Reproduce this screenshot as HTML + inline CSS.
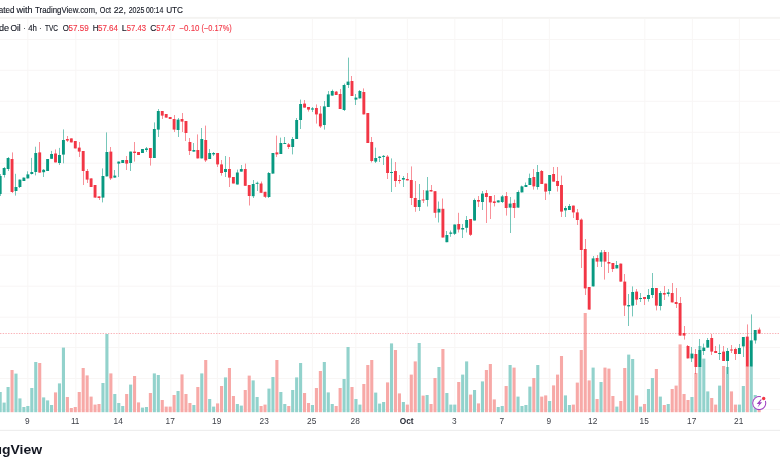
<!DOCTYPE html>
<html><head><meta charset="utf-8"><style>
html,body{margin:0;padding:0;background:#fff;}
body{width:780px;height:470px;overflow:hidden;}
svg{display:block;font-family:"Liberation Sans", sans-serif;will-change:transform;}
</style></head><body>
<svg width="780" height="470" viewBox="0 0 780 470">
<rect width="780" height="470" fill="#ffffff"/>
<rect x="27.35" y="18.8" width="1" height="393.90" fill="#f8f6f5"/>
<rect x="75.35" y="18.8" width="1" height="393.90" fill="#f8f6f5"/>
<rect x="118.35" y="18.8" width="1" height="393.90" fill="#f8f6f5"/>
<rect x="170.35" y="18.8" width="1" height="393.90" fill="#f8f6f5"/>
<rect x="216.85" y="18.8" width="1" height="393.90" fill="#f8f6f5"/>
<rect x="311.85" y="18.8" width="1" height="393.90" fill="#f8f6f5"/>
<rect x="355.35" y="18.8" width="1" height="393.90" fill="#f8f6f5"/>
<rect x="406.85" y="18.8" width="1" height="393.90" fill="#f8f6f5"/>
<rect x="454.35" y="18.8" width="1" height="393.90" fill="#f8f6f5"/>
<rect x="501.85" y="18.8" width="1" height="393.90" fill="#f8f6f5"/>
<rect x="548.85" y="18.8" width="1" height="393.90" fill="#f8f6f5"/>
<rect x="644.35" y="18.8" width="1" height="393.90" fill="#f8f6f5"/>
<rect x="691.85" y="18.8" width="1" height="393.90" fill="#f8f6f5"/>
<rect x="738.85" y="18.8" width="1" height="393.90" fill="#f8f6f5"/>
<rect x="0" y="39.00" width="780" height="1" fill="#f8f6f5"/>
<rect x="0" y="69.80" width="780" height="1" fill="#f8f6f5"/>
<rect x="0" y="100.80" width="780" height="1" fill="#f8f6f5"/>
<rect x="0" y="131.80" width="780" height="1" fill="#f8f6f5"/>
<rect x="0" y="162.70" width="780" height="1" fill="#f8f6f5"/>
<rect x="0" y="193.10" width="780" height="1" fill="#f8f6f5"/>
<rect x="0" y="223.80" width="780" height="1" fill="#f8f6f5"/>
<rect x="0" y="254.70" width="780" height="1" fill="#f8f6f5"/>
<rect x="0" y="285.70" width="780" height="1" fill="#f8f6f5"/>
<rect x="0" y="316.70" width="780" height="1" fill="#f8f6f5"/>
<rect x="0" y="347.00" width="780" height="1" fill="#f8f6f5"/>
<rect x="0" y="378.00" width="780" height="1" fill="#f8f6f5"/>
<rect x="0" y="409.00" width="780" height="1" fill="#f8f6f5"/>
<rect x="0" y="16.9" width="780" height="1.9" fill="#f4f3f1"/>
<rect x="0" y="429.8" width="780" height="1.2" fill="#eeeeee"/>
<rect x="-1.37" y="392.00" width="3.1" height="20.20" fill="#92d2cc"/>
<rect x="2.58" y="402.60" width="3.1" height="9.60" fill="#92d2cc"/>
<rect x="6.53" y="387.00" width="3.1" height="25.20" fill="#92d2cc"/>
<rect x="10.49" y="370.00" width="3.1" height="42.20" fill="#f7a9a7"/>
<rect x="14.44" y="373.60" width="3.1" height="38.60" fill="#92d2cc"/>
<rect x="18.39" y="398.40" width="3.1" height="13.80" fill="#92d2cc"/>
<rect x="22.34" y="407.00" width="3.1" height="5.20" fill="#92d2cc"/>
<rect x="26.30" y="406.00" width="3.1" height="6.20" fill="#92d2cc"/>
<rect x="30.25" y="388.00" width="3.1" height="24.20" fill="#92d2cc"/>
<rect x="34.20" y="362.00" width="3.1" height="50.20" fill="#92d2cc"/>
<rect x="38.16" y="363.00" width="3.1" height="49.20" fill="#f7a9a7"/>
<rect x="42.11" y="397.40" width="3.1" height="14.80" fill="#92d2cc"/>
<rect x="46.06" y="400.40" width="3.1" height="11.80" fill="#92d2cc"/>
<rect x="50.02" y="405.00" width="3.1" height="7.20" fill="#92d2cc"/>
<rect x="53.97" y="392.40" width="3.1" height="19.80" fill="#f7a9a7"/>
<rect x="57.92" y="383.40" width="3.1" height="28.80" fill="#92d2cc"/>
<rect x="61.88" y="347.60" width="3.1" height="64.60" fill="#92d2cc"/>
<rect x="65.83" y="397.00" width="3.1" height="15.20" fill="#f7a9a7"/>
<rect x="69.78" y="408.00" width="3.1" height="4.20" fill="#f7a9a7"/>
<rect x="73.73" y="407.00" width="3.1" height="5.20" fill="#f7a9a7"/>
<rect x="77.69" y="392.00" width="3.1" height="20.20" fill="#f7a9a7"/>
<rect x="81.64" y="368.00" width="3.1" height="44.20" fill="#f7a9a7"/>
<rect x="85.59" y="375.40" width="3.1" height="36.80" fill="#f7a9a7"/>
<rect x="89.55" y="396.60" width="3.1" height="15.60" fill="#f7a9a7"/>
<rect x="93.50" y="404.60" width="3.1" height="7.60" fill="#f7a9a7"/>
<rect x="97.45" y="404.00" width="3.1" height="8.20" fill="#f7a9a7"/>
<rect x="101.41" y="383.00" width="3.1" height="29.20" fill="#92d2cc"/>
<rect x="105.36" y="334.00" width="3.1" height="78.20" fill="#92d2cc"/>
<rect x="109.31" y="373.40" width="3.1" height="38.80" fill="#f7a9a7"/>
<rect x="113.26" y="394.00" width="3.1" height="18.20" fill="#92d2cc"/>
<rect x="117.22" y="403.00" width="3.1" height="9.20" fill="#92d2cc"/>
<rect x="121.17" y="406.00" width="3.1" height="6.20" fill="#92d2cc"/>
<rect x="125.12" y="394.00" width="3.1" height="18.20" fill="#f7a9a7"/>
<rect x="129.08" y="384.60" width="3.1" height="27.60" fill="#92d2cc"/>
<rect x="133.03" y="376.00" width="3.1" height="36.20" fill="#f7a9a7"/>
<rect x="136.98" y="402.40" width="3.1" height="9.80" fill="#f7a9a7"/>
<rect x="140.93" y="407.60" width="3.1" height="4.60" fill="#92d2cc"/>
<rect x="144.89" y="407.00" width="3.1" height="5.20" fill="#92d2cc"/>
<rect x="148.84" y="393.00" width="3.1" height="19.20" fill="#f7a9a7"/>
<rect x="152.79" y="373.40" width="3.1" height="38.80" fill="#92d2cc"/>
<rect x="156.75" y="375.00" width="3.1" height="37.20" fill="#92d2cc"/>
<rect x="160.70" y="400.00" width="3.1" height="12.20" fill="#f7a9a7"/>
<rect x="164.65" y="406.60" width="3.1" height="5.60" fill="#f7a9a7"/>
<rect x="168.61" y="406.60" width="3.1" height="5.60" fill="#f7a9a7"/>
<rect x="172.56" y="395.00" width="3.1" height="17.20" fill="#f7a9a7"/>
<rect x="176.51" y="391.00" width="3.1" height="21.20" fill="#92d2cc"/>
<rect x="180.46" y="374.40" width="3.1" height="37.80" fill="#f7a9a7"/>
<rect x="184.42" y="394.00" width="3.1" height="18.20" fill="#f7a9a7"/>
<rect x="188.37" y="403.00" width="3.1" height="9.20" fill="#f7a9a7"/>
<rect x="192.32" y="405.00" width="3.1" height="7.20" fill="#92d2cc"/>
<rect x="196.28" y="387.00" width="3.1" height="25.20" fill="#f7a9a7"/>
<rect x="200.23" y="373.40" width="3.1" height="38.80" fill="#92d2cc"/>
<rect x="204.18" y="360.00" width="3.1" height="52.20" fill="#f7a9a7"/>
<rect x="208.14" y="399.00" width="3.1" height="13.20" fill="#92d2cc"/>
<rect x="212.09" y="406.60" width="3.1" height="5.60" fill="#92d2cc"/>
<rect x="216.04" y="403.40" width="3.1" height="8.80" fill="#f7a9a7"/>
<rect x="219.99" y="386.00" width="3.1" height="26.20" fill="#f7a9a7"/>
<rect x="223.95" y="377.40" width="3.1" height="34.80" fill="#92d2cc"/>
<rect x="227.90" y="368.00" width="3.1" height="44.20" fill="#f7a9a7"/>
<rect x="231.85" y="396.00" width="3.1" height="16.20" fill="#f7a9a7"/>
<rect x="235.81" y="404.00" width="3.1" height="8.20" fill="#92d2cc"/>
<rect x="239.76" y="405.60" width="3.1" height="6.60" fill="#92d2cc"/>
<rect x="243.71" y="390.00" width="3.1" height="22.20" fill="#f7a9a7"/>
<rect x="247.67" y="375.60" width="3.1" height="36.60" fill="#f7a9a7"/>
<rect x="251.62" y="380.40" width="3.1" height="31.80" fill="#92d2cc"/>
<rect x="255.57" y="397.00" width="3.1" height="15.20" fill="#92d2cc"/>
<rect x="259.52" y="406.00" width="3.1" height="6.20" fill="#f7a9a7"/>
<rect x="263.48" y="404.60" width="3.1" height="7.60" fill="#f7a9a7"/>
<rect x="267.43" y="388.60" width="3.1" height="23.60" fill="#92d2cc"/>
<rect x="271.38" y="377.00" width="3.1" height="35.20" fill="#92d2cc"/>
<rect x="275.34" y="360.00" width="3.1" height="52.20" fill="#f7a9a7"/>
<rect x="279.29" y="392.00" width="3.1" height="20.20" fill="#92d2cc"/>
<rect x="283.24" y="404.00" width="3.1" height="8.20" fill="#92d2cc"/>
<rect x="287.20" y="406.00" width="3.1" height="6.20" fill="#f7a9a7"/>
<rect x="291.15" y="390.00" width="3.1" height="22.20" fill="#92d2cc"/>
<rect x="295.10" y="377.40" width="3.1" height="34.80" fill="#92d2cc"/>
<rect x="299.05" y="363.00" width="3.1" height="49.20" fill="#92d2cc"/>
<rect x="303.01" y="393.00" width="3.1" height="19.20" fill="#f7a9a7"/>
<rect x="306.96" y="403.00" width="3.1" height="9.20" fill="#f7a9a7"/>
<rect x="310.91" y="405.00" width="3.1" height="7.20" fill="#92d2cc"/>
<rect x="314.87" y="388.00" width="3.1" height="24.20" fill="#f7a9a7"/>
<rect x="318.82" y="371.00" width="3.1" height="41.20" fill="#f7a9a7"/>
<rect x="322.77" y="362.00" width="3.1" height="50.20" fill="#92d2cc"/>
<rect x="326.73" y="392.40" width="3.1" height="19.80" fill="#92d2cc"/>
<rect x="330.68" y="404.00" width="3.1" height="8.20" fill="#92d2cc"/>
<rect x="334.63" y="406.00" width="3.1" height="6.20" fill="#f7a9a7"/>
<rect x="338.58" y="388.00" width="3.1" height="24.20" fill="#f7a9a7"/>
<rect x="342.54" y="379.00" width="3.1" height="33.20" fill="#92d2cc"/>
<rect x="346.49" y="347.00" width="3.1" height="65.20" fill="#92d2cc"/>
<rect x="350.44" y="387.00" width="3.1" height="25.20" fill="#f7a9a7"/>
<rect x="354.40" y="399.00" width="3.1" height="13.20" fill="#92d2cc"/>
<rect x="358.35" y="404.60" width="3.1" height="7.60" fill="#92d2cc"/>
<rect x="362.30" y="384.00" width="3.1" height="28.20" fill="#f7a9a7"/>
<rect x="366.26" y="365.00" width="3.1" height="47.20" fill="#f7a9a7"/>
<rect x="370.21" y="360.00" width="3.1" height="52.20" fill="#f7a9a7"/>
<rect x="374.16" y="392.60" width="3.1" height="19.60" fill="#92d2cc"/>
<rect x="378.11" y="403.60" width="3.1" height="8.60" fill="#92d2cc"/>
<rect x="382.07" y="402.00" width="3.1" height="10.20" fill="#92d2cc"/>
<rect x="386.02" y="382.40" width="3.1" height="29.80" fill="#f7a9a7"/>
<rect x="389.97" y="343.40" width="3.1" height="68.80" fill="#92d2cc"/>
<rect x="393.93" y="350.00" width="3.1" height="62.20" fill="#f7a9a7"/>
<rect x="397.88" y="393.40" width="3.1" height="18.80" fill="#f7a9a7"/>
<rect x="401.83" y="402.00" width="3.1" height="10.20" fill="#92d2cc"/>
<rect x="405.79" y="404.60" width="3.1" height="7.60" fill="#f7a9a7"/>
<rect x="409.74" y="374.60" width="3.1" height="37.60" fill="#f7a9a7"/>
<rect x="413.69" y="361.40" width="3.1" height="50.80" fill="#f7a9a7"/>
<rect x="417.64" y="343.00" width="3.1" height="69.20" fill="#92d2cc"/>
<rect x="421.60" y="395.60" width="3.1" height="16.60" fill="#f7a9a7"/>
<rect x="425.55" y="395.00" width="3.1" height="17.20" fill="#92d2cc"/>
<rect x="429.50" y="404.00" width="3.1" height="8.20" fill="#f7a9a7"/>
<rect x="433.46" y="378.00" width="3.1" height="34.20" fill="#f7a9a7"/>
<rect x="437.41" y="367.00" width="3.1" height="45.20" fill="#92d2cc"/>
<rect x="441.36" y="349.00" width="3.1" height="63.20" fill="#f7a9a7"/>
<rect x="445.32" y="393.00" width="3.1" height="19.20" fill="#92d2cc"/>
<rect x="449.27" y="404.60" width="3.1" height="7.60" fill="#92d2cc"/>
<rect x="453.22" y="404.60" width="3.1" height="7.60" fill="#92d2cc"/>
<rect x="457.17" y="382.00" width="3.1" height="30.20" fill="#f7a9a7"/>
<rect x="461.13" y="374.60" width="3.1" height="37.60" fill="#92d2cc"/>
<rect x="465.08" y="361.40" width="3.1" height="50.80" fill="#92d2cc"/>
<rect x="469.03" y="394.60" width="3.1" height="17.60" fill="#f7a9a7"/>
<rect x="472.99" y="390.00" width="3.1" height="22.20" fill="#92d2cc"/>
<rect x="476.94" y="403.40" width="3.1" height="8.80" fill="#f7a9a7"/>
<rect x="480.89" y="381.40" width="3.1" height="30.80" fill="#92d2cc"/>
<rect x="484.85" y="370.00" width="3.1" height="42.20" fill="#f7a9a7"/>
<rect x="488.80" y="364.00" width="3.1" height="48.20" fill="#f7a9a7"/>
<rect x="492.75" y="399.40" width="3.1" height="12.80" fill="#f7a9a7"/>
<rect x="496.70" y="407.00" width="3.1" height="5.20" fill="#92d2cc"/>
<rect x="500.66" y="406.00" width="3.1" height="6.20" fill="#92d2cc"/>
<rect x="504.61" y="386.00" width="3.1" height="26.20" fill="#f7a9a7"/>
<rect x="508.56" y="365.00" width="3.1" height="47.20" fill="#92d2cc"/>
<rect x="512.52" y="367.60" width="3.1" height="44.60" fill="#f7a9a7"/>
<rect x="516.47" y="396.60" width="3.1" height="15.60" fill="#92d2cc"/>
<rect x="520.42" y="406.00" width="3.1" height="6.20" fill="#92d2cc"/>
<rect x="524.38" y="405.00" width="3.1" height="7.20" fill="#92d2cc"/>
<rect x="528.33" y="386.60" width="3.1" height="25.60" fill="#92d2cc"/>
<rect x="532.28" y="378.00" width="3.1" height="34.20" fill="#f7a9a7"/>
<rect x="536.24" y="365.00" width="3.1" height="47.20" fill="#92d2cc"/>
<rect x="540.19" y="396.60" width="3.1" height="15.60" fill="#f7a9a7"/>
<rect x="544.14" y="395.40" width="3.1" height="16.80" fill="#f7a9a7"/>
<rect x="548.09" y="401.00" width="3.1" height="11.20" fill="#92d2cc"/>
<rect x="552.05" y="385.40" width="3.1" height="26.80" fill="#f7a9a7"/>
<rect x="556.00" y="374.60" width="3.1" height="37.60" fill="#f7a9a7"/>
<rect x="559.95" y="356.00" width="3.1" height="56.20" fill="#f7a9a7"/>
<rect x="563.91" y="395.40" width="3.1" height="16.80" fill="#92d2cc"/>
<rect x="567.86" y="405.00" width="3.1" height="7.20" fill="#92d2cc"/>
<rect x="571.81" y="404.60" width="3.1" height="7.60" fill="#f7a9a7"/>
<rect x="575.76" y="382.60" width="3.1" height="29.60" fill="#f7a9a7"/>
<rect x="579.72" y="350.00" width="3.1" height="62.20" fill="#f7a9a7"/>
<rect x="583.67" y="313.00" width="3.1" height="99.20" fill="#f7a9a7"/>
<rect x="587.62" y="380.40" width="3.1" height="31.80" fill="#f7a9a7"/>
<rect x="591.58" y="367.60" width="3.1" height="44.60" fill="#92d2cc"/>
<rect x="595.53" y="399.00" width="3.1" height="13.20" fill="#f7a9a7"/>
<rect x="599.48" y="382.00" width="3.1" height="30.20" fill="#92d2cc"/>
<rect x="603.44" y="367.60" width="3.1" height="44.60" fill="#f7a9a7"/>
<rect x="607.39" y="368.60" width="3.1" height="43.60" fill="#f7a9a7"/>
<rect x="611.34" y="396.00" width="3.1" height="16.20" fill="#f7a9a7"/>
<rect x="615.30" y="406.60" width="3.1" height="5.60" fill="#92d2cc"/>
<rect x="619.25" y="401.00" width="3.1" height="11.20" fill="#f7a9a7"/>
<rect x="623.20" y="368.00" width="3.1" height="44.20" fill="#f7a9a7"/>
<rect x="627.15" y="354.60" width="3.1" height="57.60" fill="#92d2cc"/>
<rect x="631.11" y="359.00" width="3.1" height="53.20" fill="#92d2cc"/>
<rect x="635.06" y="395.40" width="3.1" height="16.80" fill="#f7a9a7"/>
<rect x="639.01" y="406.60" width="3.1" height="5.60" fill="#92d2cc"/>
<rect x="642.97" y="404.00" width="3.1" height="8.20" fill="#f7a9a7"/>
<rect x="646.92" y="389.00" width="3.1" height="23.20" fill="#92d2cc"/>
<rect x="650.87" y="378.00" width="3.1" height="34.20" fill="#92d2cc"/>
<rect x="654.83" y="369.00" width="3.1" height="43.20" fill="#f7a9a7"/>
<rect x="658.78" y="396.60" width="3.1" height="15.60" fill="#92d2cc"/>
<rect x="662.73" y="405.00" width="3.1" height="7.20" fill="#f7a9a7"/>
<rect x="666.68" y="404.00" width="3.1" height="8.20" fill="#92d2cc"/>
<rect x="670.64" y="389.00" width="3.1" height="23.20" fill="#f7a9a7"/>
<rect x="674.59" y="385.60" width="3.1" height="26.60" fill="#f7a9a7"/>
<rect x="678.54" y="344.40" width="3.1" height="67.80" fill="#f7a9a7"/>
<rect x="682.50" y="394.00" width="3.1" height="18.20" fill="#f7a9a7"/>
<rect x="686.45" y="400.00" width="3.1" height="12.20" fill="#f7a9a7"/>
<rect x="690.40" y="397.00" width="3.1" height="15.20" fill="#92d2cc"/>
<rect x="694.36" y="373.00" width="3.1" height="39.20" fill="#f7a9a7"/>
<rect x="698.31" y="346.00" width="3.1" height="66.20" fill="#92d2cc"/>
<rect x="702.26" y="358.60" width="3.1" height="53.60" fill="#92d2cc"/>
<rect x="706.21" y="391.40" width="3.1" height="20.80" fill="#92d2cc"/>
<rect x="710.17" y="398.00" width="3.1" height="14.20" fill="#f7a9a7"/>
<rect x="714.12" y="404.60" width="3.1" height="7.60" fill="#f7a9a7"/>
<rect x="718.07" y="385.60" width="3.1" height="26.60" fill="#92d2cc"/>
<rect x="722.03" y="366.00" width="3.1" height="46.20" fill="#f7a9a7"/>
<rect x="725.98" y="367.00" width="3.1" height="45.20" fill="#92d2cc"/>
<rect x="729.93" y="391.40" width="3.1" height="20.80" fill="#f7a9a7"/>
<rect x="733.88" y="404.60" width="3.1" height="7.60" fill="#f7a9a7"/>
<rect x="737.84" y="404.60" width="3.1" height="7.60" fill="#92d2cc"/>
<rect x="741.79" y="386.00" width="3.1" height="26.20" fill="#92d2cc"/>
<rect x="745.74" y="366.00" width="3.1" height="46.20" fill="#f7a9a7"/>
<rect x="749.70" y="366.00" width="3.1" height="46.20" fill="#92d2cc"/>
<rect x="753.65" y="395.00" width="3.1" height="17.20" fill="#92d2cc"/>
<rect x="757.60" y="410.00" width="3.1" height="2.20" fill="#f7a9a7"/>
<line x1="0" y1="333.5" x2="780" y2="333.5" stroke="#f23645" stroke-opacity="0.38" stroke-width="1" stroke-dasharray="1.4 1.3"/>
<rect x="0" y="174.00" width="1" height="22.00" fill="#089981" fill-opacity="0.55"/>
<rect x="-1.27" y="176.00" width="2.9" height="18.00" fill="#089981"/>
<rect x="4" y="167.00" width="1" height="10.50" fill="#089981" fill-opacity="0.55"/>
<rect x="2.68" y="168.00" width="2.9" height="7.00" fill="#089981"/>
<rect x="8" y="157.00" width="1" height="14.00" fill="#089981" fill-opacity="0.55"/>
<rect x="6.63" y="158.00" width="2.9" height="11.00" fill="#089981"/>
<rect x="12" y="152.40" width="1" height="40.60" fill="#f23645" fill-opacity="0.55"/>
<rect x="10.59" y="159.00" width="2.9" height="33.00" fill="#f23645"/>
<rect x="15" y="173.80" width="1" height="21.80" fill="#089981" fill-opacity="0.55"/>
<rect x="14.54" y="187.00" width="2.9" height="4.00" fill="#089981"/>
<rect x="19" y="179.60" width="1" height="8.40" fill="#089981" fill-opacity="0.55"/>
<rect x="18.49" y="179.60" width="2.9" height="7.40" fill="#089981"/>
<rect x="23" y="177.60" width="1" height="3.40" fill="#089981" fill-opacity="0.55"/>
<rect x="22.45" y="177.60" width="2.9" height="3.40" fill="#089981"/>
<rect x="27" y="171.30" width="1" height="7.10" fill="#089981" fill-opacity="0.55"/>
<rect x="26.40" y="174.40" width="2.9" height="4.00" fill="#089981"/>
<rect x="31" y="157.90" width="1" height="16.60" fill="#089981" fill-opacity="0.55"/>
<rect x="30.35" y="172.00" width="2.9" height="2.00" fill="#089981"/>
<rect x="35" y="146.70" width="1" height="28.70" fill="#089981" fill-opacity="0.55"/>
<rect x="34.30" y="153.00" width="2.9" height="19.00" fill="#089981"/>
<rect x="39" y="142.00" width="1" height="30.60" fill="#f23645" fill-opacity="0.55"/>
<rect x="38.26" y="152.40" width="2.9" height="20.20" fill="#f23645"/>
<rect x="43" y="169.00" width="1" height="8.00" fill="#089981" fill-opacity="0.55"/>
<rect x="42.21" y="169.80" width="2.9" height="2.40" fill="#089981"/>
<rect x="47" y="159.00" width="1" height="12.00" fill="#089981" fill-opacity="0.55"/>
<rect x="46.16" y="159.00" width="2.9" height="12.00" fill="#089981"/>
<rect x="51" y="150.90" width="1" height="7.90" fill="#089981" fill-opacity="0.55"/>
<rect x="50.12" y="154.00" width="2.9" height="4.80" fill="#089981"/>
<rect x="55" y="149.40" width="1" height="13.00" fill="#f23645" fill-opacity="0.55"/>
<rect x="54.07" y="153.50" width="2.9" height="8.90" fill="#f23645"/>
<rect x="59" y="147.90" width="1" height="17.10" fill="#089981" fill-opacity="0.55"/>
<rect x="58.02" y="155.00" width="2.9" height="8.00" fill="#089981"/>
<rect x="63" y="129.40" width="1" height="33.90" fill="#089981" fill-opacity="0.55"/>
<rect x="61.97" y="140.00" width="2.9" height="14.60" fill="#089981"/>
<rect x="67" y="136.00" width="1" height="6.00" fill="#f23645" fill-opacity="0.55"/>
<rect x="65.93" y="139.00" width="2.9" height="1.60" fill="#f23645"/>
<rect x="71" y="138.40" width="1" height="4.00" fill="#f23645" fill-opacity="0.55"/>
<rect x="69.88" y="138.40" width="2.9" height="4.00" fill="#f23645"/>
<rect x="75" y="141.00" width="1" height="7.40" fill="#f23645" fill-opacity="0.55"/>
<rect x="73.83" y="141.00" width="2.9" height="7.40" fill="#f23645"/>
<rect x="79" y="142.00" width="1" height="15.00" fill="#f23645" fill-opacity="0.55"/>
<rect x="77.79" y="147.60" width="2.9" height="4.00" fill="#f23645"/>
<rect x="83" y="151.00" width="1" height="34.00" fill="#f23645" fill-opacity="0.55"/>
<rect x="81.74" y="151.00" width="2.9" height="20.00" fill="#f23645"/>
<rect x="87" y="169.00" width="1" height="14.00" fill="#f23645" fill-opacity="0.55"/>
<rect x="85.69" y="171.00" width="2.9" height="8.60" fill="#f23645"/>
<rect x="91" y="178.40" width="1" height="8.60" fill="#f23645" fill-opacity="0.55"/>
<rect x="89.65" y="178.40" width="2.9" height="8.60" fill="#f23645"/>
<rect x="95" y="185.00" width="1" height="12.60" fill="#f23645" fill-opacity="0.55"/>
<rect x="93.60" y="185.00" width="2.9" height="12.60" fill="#f23645"/>
<rect x="99" y="196.40" width="1" height="3.60" fill="#f23645" fill-opacity="0.55"/>
<rect x="97.55" y="196.40" width="2.9" height="1.60" fill="#f23645"/>
<rect x="102" y="168.40" width="1" height="34.00" fill="#089981" fill-opacity="0.55"/>
<rect x="101.50" y="176.00" width="2.9" height="21.60" fill="#089981"/>
<rect x="106" y="132.40" width="1" height="44.00" fill="#089981" fill-opacity="0.55"/>
<rect x="105.46" y="152.00" width="2.9" height="24.40" fill="#089981"/>
<rect x="110" y="147.00" width="1" height="33.00" fill="#f23645" fill-opacity="0.55"/>
<rect x="109.41" y="151.60" width="2.9" height="26.80" fill="#f23645"/>
<rect x="114" y="170.00" width="1" height="7.60" fill="#089981" fill-opacity="0.55"/>
<rect x="113.36" y="175.60" width="2.9" height="2.00" fill="#089981"/>
<rect x="118" y="161.60" width="1" height="15.40" fill="#089981" fill-opacity="0.55"/>
<rect x="117.32" y="161.60" width="2.9" height="2.00" fill="#089981"/>
<rect x="122" y="160.00" width="1" height="3.00" fill="#089981" fill-opacity="0.55"/>
<rect x="121.27" y="160.00" width="2.9" height="3.00" fill="#089981"/>
<rect x="126" y="156.00" width="1" height="14.00" fill="#f23645" fill-opacity="0.55"/>
<rect x="125.22" y="160.00" width="2.9" height="3.60" fill="#f23645"/>
<rect x="130" y="151.60" width="1" height="19.40" fill="#089981" fill-opacity="0.55"/>
<rect x="129.18" y="151.60" width="2.9" height="11.40" fill="#089981"/>
<rect x="134" y="142.00" width="1" height="19.60" fill="#f23645" fill-opacity="0.55"/>
<rect x="133.13" y="151.60" width="2.9" height="1.40" fill="#f23645"/>
<rect x="138" y="152.00" width="1" height="3.00" fill="#f23645" fill-opacity="0.55"/>
<rect x="137.08" y="152.00" width="2.9" height="3.00" fill="#f23645"/>
<rect x="142" y="149.00" width="1" height="4.00" fill="#089981" fill-opacity="0.55"/>
<rect x="141.03" y="149.00" width="2.9" height="4.00" fill="#089981"/>
<rect x="146" y="147.00" width="1" height="5.00" fill="#089981" fill-opacity="0.55"/>
<rect x="144.99" y="148.40" width="2.9" height="1.60" fill="#089981"/>
<rect x="150" y="148.00" width="1" height="17.60" fill="#f23645" fill-opacity="0.55"/>
<rect x="148.94" y="148.00" width="2.9" height="10.00" fill="#f23645"/>
<rect x="154" y="122.40" width="1" height="35.60" fill="#089981" fill-opacity="0.55"/>
<rect x="152.89" y="129.00" width="2.9" height="29.00" fill="#089981"/>
<rect x="158" y="109.00" width="1" height="28.00" fill="#089981" fill-opacity="0.55"/>
<rect x="156.85" y="111.00" width="2.9" height="18.60" fill="#089981"/>
<rect x="162" y="111.00" width="1" height="8.00" fill="#f23645" fill-opacity="0.55"/>
<rect x="160.80" y="111.00" width="2.9" height="4.60" fill="#f23645"/>
<rect x="166" y="114.00" width="1" height="3.60" fill="#f23645" fill-opacity="0.55"/>
<rect x="164.75" y="114.00" width="2.9" height="3.60" fill="#f23645"/>
<rect x="170" y="117.00" width="1" height="2.00" fill="#f23645" fill-opacity="0.55"/>
<rect x="168.71" y="117.00" width="2.9" height="2.00" fill="#f23645"/>
<rect x="174" y="115.00" width="1" height="17.00" fill="#f23645" fill-opacity="0.55"/>
<rect x="172.66" y="119.00" width="2.9" height="10.60" fill="#f23645"/>
<rect x="178" y="118.00" width="1" height="19.00" fill="#089981" fill-opacity="0.55"/>
<rect x="176.61" y="119.60" width="2.9" height="10.40" fill="#089981"/>
<rect x="182" y="113.00" width="1" height="19.00" fill="#f23645" fill-opacity="0.55"/>
<rect x="180.56" y="119.00" width="2.9" height="2.60" fill="#f23645"/>
<rect x="185" y="121.00" width="1" height="20.00" fill="#f23645" fill-opacity="0.55"/>
<rect x="184.52" y="121.00" width="2.9" height="12.00" fill="#f23645"/>
<rect x="189" y="138.00" width="1" height="17.00" fill="#f23645" fill-opacity="0.55"/>
<rect x="188.47" y="142.00" width="2.9" height="9.00" fill="#f23645"/>
<rect x="193" y="143.00" width="1" height="8.60" fill="#089981" fill-opacity="0.55"/>
<rect x="192.42" y="150.00" width="2.9" height="1.60" fill="#089981"/>
<rect x="197" y="134.40" width="1" height="24.00" fill="#f23645" fill-opacity="0.55"/>
<rect x="196.38" y="150.00" width="2.9" height="8.40" fill="#f23645"/>
<rect x="201" y="128.00" width="1" height="30.40" fill="#089981" fill-opacity="0.55"/>
<rect x="200.33" y="139.00" width="2.9" height="19.40" fill="#089981"/>
<rect x="205" y="125.60" width="1" height="36.40" fill="#f23645" fill-opacity="0.55"/>
<rect x="204.28" y="140.00" width="2.9" height="20.40" fill="#f23645"/>
<rect x="209" y="149.00" width="1" height="10.00" fill="#089981" fill-opacity="0.55"/>
<rect x="208.24" y="153.00" width="2.9" height="6.00" fill="#089981"/>
<rect x="213" y="152.00" width="1" height="4.00" fill="#089981" fill-opacity="0.55"/>
<rect x="212.19" y="153.00" width="2.9" height="1.40" fill="#089981"/>
<rect x="217" y="153.00" width="1" height="14.00" fill="#f23645" fill-opacity="0.55"/>
<rect x="216.14" y="153.00" width="2.9" height="11.40" fill="#f23645"/>
<rect x="221" y="160.00" width="1" height="15.60" fill="#f23645" fill-opacity="0.55"/>
<rect x="220.09" y="164.40" width="2.9" height="8.60" fill="#f23645"/>
<rect x="225" y="156.00" width="1" height="21.00" fill="#089981" fill-opacity="0.55"/>
<rect x="224.05" y="169.00" width="2.9" height="3.00" fill="#089981"/>
<rect x="229" y="157.00" width="1" height="30.00" fill="#f23645" fill-opacity="0.55"/>
<rect x="228.00" y="169.00" width="2.9" height="8.60" fill="#f23645"/>
<rect x="233" y="177.00" width="1" height="6.50" fill="#f23645" fill-opacity="0.55"/>
<rect x="231.95" y="177.00" width="2.9" height="6.50" fill="#f23645"/>
<rect x="237" y="169.60" width="1" height="14.90" fill="#089981" fill-opacity="0.55"/>
<rect x="235.91" y="172.50" width="2.9" height="12.00" fill="#089981"/>
<rect x="241" y="165.00" width="1" height="6.60" fill="#089981" fill-opacity="0.55"/>
<rect x="239.86" y="169.00" width="2.9" height="2.60" fill="#089981"/>
<rect x="245" y="163.60" width="1" height="22.20" fill="#f23645" fill-opacity="0.55"/>
<rect x="243.81" y="169.00" width="2.9" height="16.80" fill="#f23645"/>
<rect x="249" y="185.00" width="1" height="20.50" fill="#f23645" fill-opacity="0.55"/>
<rect x="247.77" y="185.00" width="2.9" height="11.00" fill="#f23645"/>
<rect x="253" y="180.00" width="1" height="18.00" fill="#089981" fill-opacity="0.55"/>
<rect x="251.72" y="184.00" width="2.9" height="12.20" fill="#089981"/>
<rect x="257" y="181.60" width="1" height="9.40" fill="#089981" fill-opacity="0.55"/>
<rect x="255.67" y="182.80" width="2.9" height="1.00" fill="#089981"/>
<rect x="261" y="181.50" width="1" height="11.30" fill="#f23645" fill-opacity="0.55"/>
<rect x="259.62" y="183.50" width="2.9" height="9.30" fill="#f23645"/>
<rect x="265" y="191.80" width="1" height="6.20" fill="#f23645" fill-opacity="0.55"/>
<rect x="263.58" y="191.80" width="2.9" height="5.00" fill="#f23645"/>
<rect x="268" y="172.00" width="1" height="26.00" fill="#089981" fill-opacity="0.55"/>
<rect x="267.53" y="173.00" width="2.9" height="24.00" fill="#089981"/>
<rect x="272" y="153.00" width="1" height="20.60" fill="#089981" fill-opacity="0.55"/>
<rect x="271.48" y="153.00" width="2.9" height="20.60" fill="#089981"/>
<rect x="276" y="135.60" width="1" height="21.40" fill="#f23645" fill-opacity="0.55"/>
<rect x="275.44" y="152.40" width="2.9" height="2.00" fill="#f23645"/>
<rect x="280" y="137.60" width="1" height="16.40" fill="#089981" fill-opacity="0.55"/>
<rect x="279.39" y="143.00" width="2.9" height="11.00" fill="#089981"/>
<rect x="284" y="137.00" width="1" height="7.00" fill="#089981" fill-opacity="0.55"/>
<rect x="283.34" y="143.00" width="2.9" height="1.00" fill="#089981"/>
<rect x="288" y="143.00" width="1" height="6.00" fill="#f23645" fill-opacity="0.55"/>
<rect x="287.30" y="144.40" width="2.9" height="2.60" fill="#f23645"/>
<rect x="292" y="137.00" width="1" height="17.40" fill="#089981" fill-opacity="0.55"/>
<rect x="291.25" y="139.00" width="2.9" height="8.00" fill="#089981"/>
<rect x="296" y="118.00" width="1" height="21.00" fill="#089981" fill-opacity="0.55"/>
<rect x="295.20" y="120.00" width="2.9" height="19.00" fill="#089981"/>
<rect x="300" y="99.60" width="1" height="29.40" fill="#089981" fill-opacity="0.55"/>
<rect x="299.15" y="104.00" width="2.9" height="16.00" fill="#089981"/>
<rect x="304" y="100.00" width="1" height="7.60" fill="#f23645" fill-opacity="0.55"/>
<rect x="303.11" y="103.60" width="2.9" height="4.00" fill="#f23645"/>
<rect x="308" y="107.00" width="1" height="4.60" fill="#f23645" fill-opacity="0.55"/>
<rect x="307.06" y="107.00" width="2.9" height="2.60" fill="#f23645"/>
<rect x="312" y="107.00" width="1" height="5.00" fill="#089981" fill-opacity="0.55"/>
<rect x="311.01" y="108.40" width="2.9" height="1.20" fill="#089981"/>
<rect x="316" y="104.40" width="1" height="19.20" fill="#f23645" fill-opacity="0.55"/>
<rect x="314.97" y="108.00" width="2.9" height="6.40" fill="#f23645"/>
<rect x="320" y="106.00" width="1" height="22.00" fill="#f23645" fill-opacity="0.55"/>
<rect x="318.92" y="113.60" width="2.9" height="12.80" fill="#f23645"/>
<rect x="324" y="101.00" width="1" height="28.60" fill="#089981" fill-opacity="0.55"/>
<rect x="322.87" y="106.40" width="2.9" height="18.60" fill="#089981"/>
<rect x="328" y="91.00" width="1" height="16.00" fill="#089981" fill-opacity="0.55"/>
<rect x="326.83" y="94.40" width="2.9" height="12.60" fill="#089981"/>
<rect x="332" y="89.60" width="1" height="6.00" fill="#089981" fill-opacity="0.55"/>
<rect x="330.78" y="91.00" width="2.9" height="4.60" fill="#089981"/>
<rect x="336" y="91.00" width="1" height="4.00" fill="#f23645" fill-opacity="0.55"/>
<rect x="334.73" y="91.60" width="2.9" height="3.40" fill="#f23645"/>
<rect x="340" y="89.00" width="1" height="20.00" fill="#f23645" fill-opacity="0.55"/>
<rect x="338.69" y="94.00" width="2.9" height="15.00" fill="#f23645"/>
<rect x="344" y="83.60" width="1" height="27.40" fill="#089981" fill-opacity="0.55"/>
<rect x="342.64" y="85.00" width="2.9" height="25.00" fill="#089981"/>
<rect x="348" y="57.60" width="1" height="30.40" fill="#089981" fill-opacity="0.55"/>
<rect x="346.59" y="81.60" width="2.9" height="3.40" fill="#089981"/>
<rect x="351" y="76.00" width="1" height="20.00" fill="#f23645" fill-opacity="0.55"/>
<rect x="350.54" y="81.00" width="2.9" height="15.00" fill="#f23645"/>
<rect x="355" y="94.00" width="1" height="11.00" fill="#089981" fill-opacity="0.55"/>
<rect x="354.50" y="97.60" width="2.9" height="2.00" fill="#089981"/>
<rect x="359" y="90.00" width="1" height="8.40" fill="#089981" fill-opacity="0.55"/>
<rect x="358.45" y="91.00" width="2.9" height="7.40" fill="#089981"/>
<rect x="363" y="88.40" width="1" height="26.00" fill="#f23645" fill-opacity="0.55"/>
<rect x="362.40" y="92.00" width="2.9" height="22.40" fill="#f23645"/>
<rect x="367" y="113.00" width="1" height="30.00" fill="#f23645" fill-opacity="0.55"/>
<rect x="366.36" y="113.00" width="2.9" height="30.00" fill="#f23645"/>
<rect x="371" y="137.00" width="1" height="25.40" fill="#f23645" fill-opacity="0.55"/>
<rect x="370.31" y="142.00" width="2.9" height="19.00" fill="#f23645"/>
<rect x="375" y="147.60" width="1" height="15.40" fill="#089981" fill-opacity="0.55"/>
<rect x="374.26" y="158.00" width="2.9" height="3.60" fill="#089981"/>
<rect x="379" y="156.00" width="1" height="6.00" fill="#089981" fill-opacity="0.55"/>
<rect x="378.21" y="156.60" width="2.9" height="1.40" fill="#089981"/>
<rect x="383" y="155.00" width="1" height="10.00" fill="#089981" fill-opacity="0.55"/>
<rect x="382.17" y="155.90" width="2.9" height="1.00" fill="#089981"/>
<rect x="387" y="155.00" width="1" height="24.00" fill="#f23645" fill-opacity="0.55"/>
<rect x="386.12" y="156.60" width="2.9" height="16.40" fill="#f23645"/>
<rect x="391" y="158.40" width="1" height="33.60" fill="#089981" fill-opacity="0.55"/>
<rect x="390.07" y="172.00" width="2.9" height="1.00" fill="#089981"/>
<rect x="395" y="162.00" width="1" height="25.00" fill="#f23645" fill-opacity="0.55"/>
<rect x="394.03" y="171.00" width="2.9" height="10.00" fill="#f23645"/>
<rect x="399" y="175.00" width="1" height="8.60" fill="#f23645" fill-opacity="0.55"/>
<rect x="397.98" y="180.00" width="2.9" height="1.00" fill="#f23645"/>
<rect x="403" y="176.00" width="1" height="11.00" fill="#089981" fill-opacity="0.55"/>
<rect x="401.93" y="178.00" width="2.9" height="1.60" fill="#089981"/>
<rect x="407" y="173.00" width="1" height="7.40" fill="#f23645" fill-opacity="0.55"/>
<rect x="405.89" y="179.00" width="2.9" height="1.40" fill="#f23645"/>
<rect x="411" y="166.40" width="1" height="38.60" fill="#f23645" fill-opacity="0.55"/>
<rect x="409.84" y="180.00" width="2.9" height="18.00" fill="#f23645"/>
<rect x="415" y="181.00" width="1" height="30.80" fill="#f23645" fill-opacity="0.55"/>
<rect x="413.79" y="198.00" width="2.9" height="9.00" fill="#f23645"/>
<rect x="419" y="184.00" width="1" height="27.00" fill="#089981" fill-opacity="0.55"/>
<rect x="417.75" y="200.00" width="2.9" height="7.00" fill="#089981"/>
<rect x="423" y="190.00" width="1" height="13.00" fill="#f23645" fill-opacity="0.55"/>
<rect x="421.70" y="199.50" width="2.9" height="1.00" fill="#f23645"/>
<rect x="427" y="177.00" width="1" height="29.50" fill="#089981" fill-opacity="0.55"/>
<rect x="425.65" y="190.50" width="2.9" height="9.50" fill="#089981"/>
<rect x="431" y="185.00" width="1" height="6.50" fill="#f23645" fill-opacity="0.55"/>
<rect x="429.60" y="190.00" width="2.9" height="1.50" fill="#f23645"/>
<rect x="435" y="191.20" width="1" height="26.60" fill="#f23645" fill-opacity="0.55"/>
<rect x="433.56" y="191.20" width="2.9" height="21.60" fill="#f23645"/>
<rect x="438" y="201.50" width="1" height="21.00" fill="#089981" fill-opacity="0.55"/>
<rect x="437.51" y="208.80" width="2.9" height="3.70" fill="#089981"/>
<rect x="442" y="198.50" width="1" height="39.00" fill="#f23645" fill-opacity="0.55"/>
<rect x="441.46" y="208.80" width="2.9" height="28.70" fill="#f23645"/>
<rect x="446" y="231.00" width="1" height="11.20" fill="#089981" fill-opacity="0.55"/>
<rect x="445.42" y="235.00" width="2.9" height="7.20" fill="#089981"/>
<rect x="450" y="230.50" width="1" height="6.30" fill="#089981" fill-opacity="0.55"/>
<rect x="449.37" y="232.50" width="2.9" height="1.30" fill="#089981"/>
<rect x="454" y="224.50" width="1" height="10.50" fill="#089981" fill-opacity="0.55"/>
<rect x="453.32" y="224.50" width="2.9" height="9.30" fill="#089981"/>
<rect x="458" y="212.80" width="1" height="19.70" fill="#f23645" fill-opacity="0.55"/>
<rect x="457.27" y="224.00" width="2.9" height="5.50" fill="#f23645"/>
<rect x="462" y="224.00" width="1" height="14.00" fill="#089981" fill-opacity="0.55"/>
<rect x="461.23" y="228.00" width="2.9" height="1.50" fill="#089981"/>
<rect x="466" y="216.00" width="1" height="16.50" fill="#089981" fill-opacity="0.55"/>
<rect x="465.18" y="220.00" width="2.9" height="7.80" fill="#089981"/>
<rect x="470" y="219.00" width="1" height="17.00" fill="#f23645" fill-opacity="0.55"/>
<rect x="469.13" y="219.00" width="2.9" height="15.80" fill="#f23645"/>
<rect x="474" y="198.50" width="1" height="22.00" fill="#089981" fill-opacity="0.55"/>
<rect x="473.09" y="200.00" width="2.9" height="20.50" fill="#089981"/>
<rect x="478" y="196.00" width="1" height="11.00" fill="#f23645" fill-opacity="0.55"/>
<rect x="477.04" y="200.00" width="2.9" height="1.60" fill="#f23645"/>
<rect x="482" y="191.00" width="1" height="19.00" fill="#089981" fill-opacity="0.55"/>
<rect x="480.99" y="193.60" width="2.9" height="8.40" fill="#089981"/>
<rect x="486" y="190.00" width="1" height="33.00" fill="#f23645" fill-opacity="0.55"/>
<rect x="484.95" y="193.00" width="2.9" height="4.00" fill="#f23645"/>
<rect x="490" y="196.00" width="1" height="23.00" fill="#f23645" fill-opacity="0.55"/>
<rect x="488.90" y="196.00" width="2.9" height="6.40" fill="#f23645"/>
<rect x="494" y="195.00" width="1" height="11.40" fill="#f23645" fill-opacity="0.55"/>
<rect x="492.85" y="201.40" width="2.9" height="1.60" fill="#f23645"/>
<rect x="498" y="200.40" width="1" height="2.00" fill="#089981" fill-opacity="0.55"/>
<rect x="496.81" y="200.40" width="2.9" height="2.00" fill="#089981"/>
<rect x="502" y="195.00" width="1" height="8.00" fill="#089981" fill-opacity="0.55"/>
<rect x="500.76" y="196.40" width="2.9" height="5.60" fill="#089981"/>
<rect x="506" y="192.00" width="1" height="23.60" fill="#f23645" fill-opacity="0.55"/>
<rect x="504.71" y="196.00" width="2.9" height="12.00" fill="#f23645"/>
<rect x="510" y="197.00" width="1" height="36.00" fill="#089981" fill-opacity="0.55"/>
<rect x="508.66" y="203.60" width="2.9" height="4.00" fill="#089981"/>
<rect x="514" y="199.60" width="1" height="18.40" fill="#f23645" fill-opacity="0.55"/>
<rect x="512.62" y="203.00" width="2.9" height="5.00" fill="#f23645"/>
<rect x="518" y="190.40" width="1" height="17.20" fill="#089981" fill-opacity="0.55"/>
<rect x="516.57" y="192.00" width="2.9" height="15.60" fill="#089981"/>
<rect x="521" y="185.60" width="1" height="6.80" fill="#089981" fill-opacity="0.55"/>
<rect x="520.52" y="186.40" width="2.9" height="6.00" fill="#089981"/>
<rect x="525" y="182.50" width="1" height="4.50" fill="#089981" fill-opacity="0.55"/>
<rect x="524.48" y="185.00" width="2.9" height="2.00" fill="#089981"/>
<rect x="529" y="173.60" width="1" height="11.40" fill="#089981" fill-opacity="0.55"/>
<rect x="528.43" y="178.00" width="2.9" height="7.00" fill="#089981"/>
<rect x="533" y="169.00" width="1" height="20.60" fill="#f23645" fill-opacity="0.55"/>
<rect x="532.38" y="177.00" width="2.9" height="9.40" fill="#f23645"/>
<rect x="537" y="165.00" width="1" height="24.60" fill="#089981" fill-opacity="0.55"/>
<rect x="536.33" y="172.00" width="2.9" height="15.00" fill="#089981"/>
<rect x="541" y="170.00" width="1" height="14.00" fill="#f23645" fill-opacity="0.55"/>
<rect x="540.29" y="171.00" width="2.9" height="13.00" fill="#f23645"/>
<rect x="545" y="183.60" width="1" height="16.40" fill="#f23645" fill-opacity="0.55"/>
<rect x="544.24" y="183.60" width="2.9" height="8.00" fill="#f23645"/>
<rect x="549" y="175.00" width="1" height="19.40" fill="#089981" fill-opacity="0.55"/>
<rect x="548.19" y="175.00" width="2.9" height="16.00" fill="#089981"/>
<rect x="553" y="167.00" width="1" height="14.60" fill="#f23645" fill-opacity="0.55"/>
<rect x="552.15" y="174.00" width="2.9" height="7.60" fill="#f23645"/>
<rect x="557" y="167.00" width="1" height="24.60" fill="#f23645" fill-opacity="0.55"/>
<rect x="556.10" y="181.00" width="2.9" height="5.00" fill="#f23645"/>
<rect x="561" y="175.60" width="1" height="41.40" fill="#f23645" fill-opacity="0.55"/>
<rect x="560.05" y="185.00" width="2.9" height="26.60" fill="#f23645"/>
<rect x="565" y="206.00" width="1" height="11.00" fill="#089981" fill-opacity="0.55"/>
<rect x="564.01" y="208.00" width="2.9" height="2.40" fill="#089981"/>
<rect x="569" y="204.00" width="1" height="6.00" fill="#089981" fill-opacity="0.55"/>
<rect x="567.96" y="206.00" width="2.9" height="4.00" fill="#089981"/>
<rect x="573" y="205.60" width="1" height="12.40" fill="#f23645" fill-opacity="0.55"/>
<rect x="571.91" y="205.60" width="2.9" height="6.80" fill="#f23645"/>
<rect x="577" y="209.00" width="1" height="16.00" fill="#f23645" fill-opacity="0.55"/>
<rect x="575.86" y="212.40" width="2.9" height="7.60" fill="#f23645"/>
<rect x="581" y="218.40" width="1" height="49.60" fill="#f23645" fill-opacity="0.55"/>
<rect x="579.82" y="219.60" width="2.9" height="30.40" fill="#f23645"/>
<rect x="585" y="239.00" width="1" height="56.00" fill="#f23645" fill-opacity="0.55"/>
<rect x="583.77" y="249.00" width="2.9" height="39.40" fill="#f23645"/>
<rect x="589" y="287.00" width="1" height="22.60" fill="#f23645" fill-opacity="0.55"/>
<rect x="587.72" y="287.00" width="2.9" height="22.60" fill="#f23645"/>
<rect x="593" y="256.00" width="1" height="30.40" fill="#089981" fill-opacity="0.55"/>
<rect x="591.68" y="258.40" width="2.9" height="28.00" fill="#089981"/>
<rect x="597" y="255.00" width="1" height="12.00" fill="#f23645" fill-opacity="0.55"/>
<rect x="595.63" y="258.00" width="2.9" height="3.60" fill="#f23645"/>
<rect x="601" y="250.00" width="1" height="17.00" fill="#089981" fill-opacity="0.55"/>
<rect x="599.58" y="252.40" width="2.9" height="9.20" fill="#089981"/>
<rect x="604" y="250.00" width="1" height="29.60" fill="#f23645" fill-opacity="0.55"/>
<rect x="603.54" y="252.00" width="2.9" height="9.60" fill="#f23645"/>
<rect x="608" y="252.00" width="1" height="21.00" fill="#f23645" fill-opacity="0.55"/>
<rect x="607.49" y="262.00" width="2.9" height="1.60" fill="#f23645"/>
<rect x="612" y="263.00" width="1" height="9.00" fill="#f23645" fill-opacity="0.55"/>
<rect x="611.44" y="263.00" width="2.9" height="6.00" fill="#f23645"/>
<rect x="616" y="261.00" width="1" height="7.40" fill="#089981" fill-opacity="0.55"/>
<rect x="615.39" y="265.00" width="2.9" height="3.40" fill="#089981"/>
<rect x="620" y="263.60" width="1" height="18.00" fill="#f23645" fill-opacity="0.55"/>
<rect x="619.35" y="263.60" width="2.9" height="18.00" fill="#f23645"/>
<rect x="624" y="274.00" width="1" height="42.00" fill="#f23645" fill-opacity="0.55"/>
<rect x="623.30" y="281.60" width="2.9" height="23.90" fill="#f23645"/>
<rect x="628" y="294.00" width="1" height="32.00" fill="#089981" fill-opacity="0.55"/>
<rect x="627.25" y="305.00" width="2.9" height="1.40" fill="#089981"/>
<rect x="632" y="286.40" width="1" height="30.00" fill="#089981" fill-opacity="0.55"/>
<rect x="631.21" y="292.00" width="2.9" height="13.60" fill="#089981"/>
<rect x="636" y="289.00" width="1" height="16.00" fill="#f23645" fill-opacity="0.55"/>
<rect x="635.16" y="291.60" width="2.9" height="8.00" fill="#f23645"/>
<rect x="640" y="293.00" width="1" height="9.00" fill="#089981" fill-opacity="0.55"/>
<rect x="639.11" y="298.00" width="2.9" height="1.00" fill="#089981"/>
<rect x="644" y="297.00" width="1" height="8.00" fill="#f23645" fill-opacity="0.55"/>
<rect x="643.07" y="297.00" width="2.9" height="2.00" fill="#f23645"/>
<rect x="648" y="289.00" width="1" height="12.60" fill="#089981" fill-opacity="0.55"/>
<rect x="647.02" y="295.00" width="2.9" height="4.00" fill="#089981"/>
<rect x="652" y="273.00" width="1" height="25.00" fill="#089981" fill-opacity="0.55"/>
<rect x="650.97" y="288.00" width="2.9" height="7.00" fill="#089981"/>
<rect x="656" y="288.00" width="1" height="22.40" fill="#f23645" fill-opacity="0.55"/>
<rect x="654.92" y="288.00" width="2.9" height="17.60" fill="#f23645"/>
<rect x="660" y="291.00" width="1" height="19.40" fill="#089981" fill-opacity="0.55"/>
<rect x="658.88" y="293.00" width="2.9" height="13.00" fill="#089981"/>
<rect x="664" y="286.00" width="1" height="14.00" fill="#f23645" fill-opacity="0.55"/>
<rect x="662.83" y="293.00" width="2.9" height="1.60" fill="#f23645"/>
<rect x="668" y="289.00" width="1" height="7.50" fill="#089981" fill-opacity="0.55"/>
<rect x="666.78" y="292.40" width="2.9" height="1.60" fill="#089981"/>
<rect x="672" y="283.00" width="1" height="19.40" fill="#f23645" fill-opacity="0.55"/>
<rect x="670.74" y="293.00" width="2.9" height="9.40" fill="#f23645"/>
<rect x="676" y="288.00" width="1" height="20.00" fill="#f23645" fill-opacity="0.55"/>
<rect x="674.69" y="302.00" width="2.9" height="2.00" fill="#f23645"/>
<rect x="680" y="297.00" width="1" height="38.60" fill="#f23645" fill-opacity="0.55"/>
<rect x="678.64" y="303.00" width="2.9" height="32.60" fill="#f23645"/>
<rect x="684" y="326.00" width="1" height="13.60" fill="#f23645" fill-opacity="0.55"/>
<rect x="682.60" y="333.00" width="2.9" height="2.60" fill="#f23645"/>
<rect x="687" y="345.00" width="1" height="13.40" fill="#f23645" fill-opacity="0.55"/>
<rect x="686.55" y="346.00" width="2.9" height="12.40" fill="#f23645"/>
<rect x="691" y="347.00" width="1" height="15.00" fill="#089981" fill-opacity="0.55"/>
<rect x="690.50" y="353.60" width="2.9" height="4.80" fill="#089981"/>
<rect x="695" y="349.00" width="1" height="25.00" fill="#f23645" fill-opacity="0.55"/>
<rect x="694.45" y="354.00" width="2.9" height="13.00" fill="#f23645"/>
<rect x="699" y="339.00" width="1" height="28.00" fill="#089981" fill-opacity="0.55"/>
<rect x="698.41" y="350.00" width="2.9" height="17.00" fill="#089981"/>
<rect x="703" y="343.60" width="1" height="11.40" fill="#089981" fill-opacity="0.55"/>
<rect x="702.36" y="347.60" width="2.9" height="3.40" fill="#089981"/>
<rect x="707" y="338.00" width="1" height="9.60" fill="#089981" fill-opacity="0.55"/>
<rect x="706.31" y="340.00" width="2.9" height="7.60" fill="#089981"/>
<rect x="711" y="334.00" width="1" height="21.00" fill="#f23645" fill-opacity="0.55"/>
<rect x="710.27" y="338.00" width="2.9" height="13.60" fill="#f23645"/>
<rect x="715" y="346.00" width="1" height="7.00" fill="#f23645" fill-opacity="0.55"/>
<rect x="714.22" y="351.00" width="2.9" height="2.00" fill="#f23645"/>
<rect x="719" y="344.40" width="1" height="15.60" fill="#089981" fill-opacity="0.55"/>
<rect x="718.17" y="353.00" width="2.9" height="1.00" fill="#089981"/>
<rect x="723" y="346.00" width="1" height="15.00" fill="#f23645" fill-opacity="0.55"/>
<rect x="722.13" y="351.60" width="2.9" height="9.40" fill="#f23645"/>
<rect x="727" y="348.00" width="1" height="26.00" fill="#089981" fill-opacity="0.55"/>
<rect x="726.08" y="351.00" width="2.9" height="10.00" fill="#089981"/>
<rect x="731" y="345.00" width="1" height="8.00" fill="#f23645" fill-opacity="0.55"/>
<rect x="730.03" y="349.50" width="2.9" height="1.00" fill="#f23645"/>
<rect x="735" y="347.60" width="1" height="12.40" fill="#f23645" fill-opacity="0.55"/>
<rect x="733.98" y="349.00" width="2.9" height="5.00" fill="#f23645"/>
<rect x="739" y="344.00" width="1" height="10.00" fill="#089981" fill-opacity="0.55"/>
<rect x="737.94" y="348.00" width="2.9" height="6.00" fill="#089981"/>
<rect x="743" y="337.00" width="1" height="20.00" fill="#089981" fill-opacity="0.55"/>
<rect x="741.89" y="337.00" width="2.9" height="9.40" fill="#089981"/>
<rect x="747" y="324.40" width="1" height="42.00" fill="#f23645" fill-opacity="0.55"/>
<rect x="745.84" y="336.60" width="2.9" height="29.80" fill="#f23645"/>
<rect x="751" y="314.40" width="1" height="52.00" fill="#089981" fill-opacity="0.55"/>
<rect x="749.80" y="340.40" width="2.9" height="26.00" fill="#089981"/>
<rect x="755" y="330.00" width="1" height="13.60" fill="#089981" fill-opacity="0.55"/>
<rect x="753.75" y="330.00" width="2.9" height="10.40" fill="#089981"/>
<rect x="759" y="327.60" width="1" height="6.00" fill="#f23645" fill-opacity="0.55"/>
<rect x="757.70" y="329.60" width="2.9" height="4.00" fill="#f23645"/>
<text x="27.20" y="424.1" text-anchor="middle" font-size="8.3" font-weight="normal" fill="#3b3e46">9</text>
<text x="75.20" y="424.1" text-anchor="middle" font-size="8.3" font-weight="normal" fill="#3b3e46">11</text>
<text x="118.20" y="424.1" text-anchor="middle" font-size="8.3" font-weight="normal" fill="#3b3e46">14</text>
<text x="170.20" y="424.1" text-anchor="middle" font-size="8.3" font-weight="normal" fill="#3b3e46">17</text>
<text x="216.70" y="424.1" text-anchor="middle" font-size="8.3" font-weight="normal" fill="#3b3e46">19</text>
<text x="264.20" y="424.1" text-anchor="middle" font-size="8.3" font-weight="normal" fill="#3b3e46">23</text>
<text x="311.70" y="424.1" text-anchor="middle" font-size="8.3" font-weight="normal" fill="#3b3e46">25</text>
<text x="355.20" y="424.1" text-anchor="middle" font-size="8.3" font-weight="normal" fill="#3b3e46">28</text>
<text x="406.70" y="424.1" text-anchor="middle" font-size="8.3" font-weight="bold" fill="#2a2e39">Oct</text>
<text x="454.20" y="424.1" text-anchor="middle" font-size="8.3" font-weight="normal" fill="#3b3e46">3</text>
<text x="501.70" y="424.1" text-anchor="middle" font-size="8.3" font-weight="normal" fill="#3b3e46">7</text>
<text x="548.70" y="424.1" text-anchor="middle" font-size="8.3" font-weight="normal" fill="#3b3e46">9</text>
<text x="592.70" y="424.1" text-anchor="middle" font-size="8.3" font-weight="normal" fill="#3b3e46">12</text>
<text x="644.20" y="424.1" text-anchor="middle" font-size="8.3" font-weight="normal" fill="#3b3e46">15</text>
<text x="691.70" y="424.1" text-anchor="middle" font-size="8.3" font-weight="normal" fill="#3b3e46">17</text>
<text x="738.70" y="424.1" text-anchor="middle" font-size="8.3" font-weight="normal" fill="#3b3e46">21</text>
<text x="-1.25" y="13.1" font-size="8.4" font-weight="normal" fill="#131722" stroke="#131722" stroke-width="0.12" textLength="15.70" lengthAdjust="spacingAndGlyphs">ated</text>
<text x="16.55" y="13.1" font-size="8.4" font-weight="normal" fill="#131722" stroke="#131722" stroke-width="0.12" textLength="16.10" lengthAdjust="spacingAndGlyphs">with</text>
<text x="35.05" y="13.1" font-size="8.4" font-weight="normal" fill="#131722" stroke="#131722" stroke-width="0.12" textLength="62.20" lengthAdjust="spacingAndGlyphs">TradingView.com,</text>
<text x="99.85" y="13.1" font-size="8.4" font-weight="normal" fill="#131722" stroke="#131722" stroke-width="0.12" textLength="11.10" lengthAdjust="spacingAndGlyphs">Oct</text>
<text x="113.65" y="13.1" font-size="8.4" font-weight="normal" fill="#131722" stroke="#131722" stroke-width="0.12" textLength="12.30" lengthAdjust="spacingAndGlyphs">22,</text>
<text x="128.65" y="13.1" font-size="8.4" font-weight="normal" fill="#131722" stroke="#131722" stroke-width="0.12" textLength="15.70" lengthAdjust="spacingAndGlyphs">2025</text>
<text x="145.95" y="13.1" font-size="8.4" font-weight="normal" fill="#131722" stroke="#131722" stroke-width="0.12" textLength="17.40" lengthAdjust="spacingAndGlyphs">00:14</text>
<text x="166.15" y="13.1" font-size="8.4" font-weight="normal" fill="#131722" stroke="#131722" stroke-width="0.12" textLength="16.90" lengthAdjust="spacingAndGlyphs">UTC</text>
<text x="-0.95" y="31.0" font-size="8.4" font-weight="normal" fill="#131722" stroke="#131722" stroke-width="0.12" textLength="10.10" lengthAdjust="spacingAndGlyphs">de</text>
<text x="10.45" y="31.0" font-size="8.4" font-weight="normal" fill="#131722" stroke="#131722" stroke-width="0.12" textLength="10.30" lengthAdjust="spacingAndGlyphs">Oil</text>
<text x="23.55" y="31.0" font-size="8.4" font-weight="normal" fill="#131722" stroke="#131722" stroke-width="0.12" textLength="2.10" lengthAdjust="spacingAndGlyphs">·</text>
<text x="28.15" y="31.0" font-size="8.4" font-weight="normal" fill="#131722" stroke="#131722" stroke-width="0.12" textLength="8.70" lengthAdjust="spacingAndGlyphs">4h</text>
<text x="39.35" y="31.0" font-size="8.4" font-weight="normal" fill="#131722" stroke="#131722" stroke-width="0.12" textLength="2.10" lengthAdjust="spacingAndGlyphs">·</text>
<text x="45.05" y="31.0" font-size="8.4" font-weight="normal" fill="#131722" stroke="#131722" stroke-width="0.12" textLength="13.00" lengthAdjust="spacingAndGlyphs">TVC</text>
<text x="62.85" y="31.0" font-size="8.4" font-weight="normal" fill="#131722" stroke="#131722" stroke-width="0.12" textLength="6.10" lengthAdjust="spacingAndGlyphs">O</text>
<text x="68.55" y="31.0" font-size="8.4" font-weight="normal" fill="#f23645" stroke="#f23645" stroke-width="0.12" textLength="20.10" lengthAdjust="spacingAndGlyphs">57.59</text>
<text x="92.65" y="31.0" font-size="8.4" font-weight="normal" fill="#131722" stroke="#131722" stroke-width="0.12" textLength="5.70" lengthAdjust="spacingAndGlyphs">H</text>
<text x="97.95" y="31.0" font-size="8.4" font-weight="normal" fill="#f23645" stroke="#f23645" stroke-width="0.12" textLength="20.00" lengthAdjust="spacingAndGlyphs">57.64</text>
<text x="121.85" y="31.0" font-size="8.4" font-weight="normal" fill="#131722" stroke="#131722" stroke-width="0.12" textLength="5.00" lengthAdjust="spacingAndGlyphs">L</text>
<text x="126.75" y="31.0" font-size="8.4" font-weight="normal" fill="#f23645" stroke="#f23645" stroke-width="0.12" textLength="19.30" lengthAdjust="spacingAndGlyphs">57.43</text>
<text x="150.35" y="31.0" font-size="8.4" font-weight="normal" fill="#131722" stroke="#131722" stroke-width="0.12" textLength="6.10" lengthAdjust="spacingAndGlyphs">C</text>
<text x="156.15" y="31.0" font-size="8.4" font-weight="normal" fill="#f23645" stroke="#f23645" stroke-width="0.12" textLength="19.10" lengthAdjust="spacingAndGlyphs">57.47</text>
<text x="179.45" y="31.0" font-size="8.4" font-weight="normal" fill="#f23645" stroke="#f23645" stroke-width="0.12" textLength="20.00" lengthAdjust="spacingAndGlyphs">−0.10</text>
<text x="201.45" y="31.0" font-size="8.4" font-weight="normal" fill="#f23645" stroke="#f23645" stroke-width="0.12" textLength="30.30" lengthAdjust="spacingAndGlyphs">(−0.17%)</text>
<text transform="translate(-6.6,454.2) scale(1.1,1)" font-size="12.7" font-weight="bold" fill="#131722">ugView</text>
<circle cx="759.2" cy="403.1" r="7.1" fill="#ffffff"/>
<path d="M 765.31 400.88 A 6.5 6.5 0 1 1 760.88 396.82" fill="none" stroke="#a040c2" stroke-width="1.05"/>
<path d="M 760.5 399.4 L 756.7 403.9 L 759.1 403.9 L 757.5 407.4 L 762.1 402.3 L 759.8 402.3 L 761.9 399.4 Z" fill="#a040c2"/>
<circle cx="763.7" cy="398.5" r="1.75" fill="#f23645"/>
</svg>
</body></html>
